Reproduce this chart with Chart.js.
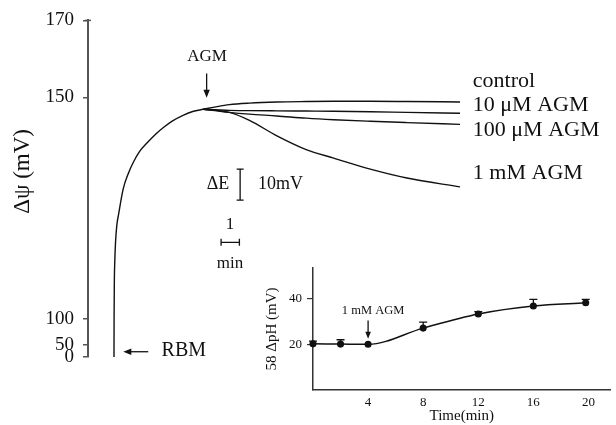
<!DOCTYPE html>
<html>
<head>
<meta charset="utf-8">
<script src="https://cdn.jsdelivr.net/npm/chart.js@4.4.1/dist/chart.umd.min.js"></script>
<style>
  body { margin: 0; background: #fff; }
  #wrap { position: relative; width: 616px; height: 425px; }
  #main { position: absolute; left: 0; top: 0; }
  #inset { position: absolute; left: 255px; top: 255px; }
</style>
</head>
<body>
<div id="wrap">
  <canvas id="main" width="616" height="425"></canvas>
  <canvas id="inset" width="361" height="170"></canvas>
</div>
<script>
// main trace, time in min after RBM, potential in mV
const riseTime = [0, 0.005, 0.02, 0.04, 0.08, 0.15, 0.25, 0.5, 0.8, 1.05, 1.4, 1.8, 2.3, 2.7, 3.2, 3.8, 4.3, 4.88];
const riseValue = [0, 100, 108.8, 112.6, 117, 121, 123.6, 129.3, 133, 135.3, 137.8, 139.7, 141.8, 143.2, 144.7, 146, 146.8, 147.3];

const tailTime = [4.88, 5.5, 6.3, 7.4, 8.9, 10.5, 12, 14, 16, 18.9];
const controlValue = [147.3, 147.8, 148.35, 148.7, 148.95, 149.05, 149.1, 149.1, 149.05, 148.95];
const agm10uMValue = [147.3, 147.2, 147.05, 147.0, 146.95, 146.9, 146.85, 146.75, 146.6, 146.4];
const agm100uMValue = [147.3, 147.0, 146.6, 146.2, 145.8, 145.3, 144.95, 144.6, 144.3, 143.9];
const agm1mMValue = [147.3, 147.1, 146.6, 144.8, 141.3, 138.2, 136.3, 133.8, 131.8, 129.8];

const curveLabels = ["control", "10 \u03bcM AGM", "100 \u03bcM AGM", "1 mM AGM"];
const curveLabelValue = [154.2, 148.2, 142.6, 132.9];

const yTicks = [0, 50, 100, 150, 170];

// inset: 58 dpH vs time
const insetTime = [0, 2, 4, 8, 12, 16, 19.8];
const insetValue = [20.2, 20.1, 20.0, 27.1, 33.3, 36.8, 38.2];
const insetError = [1.2, 1.9, 0, 2.6, 1.0, 2.9, 1.5];
const insetXTicks = [4, 8, 12, 16, 20];
const insetYTicks = [20, 40];

const serif = "'Liberation Serif', 'Times New Roman', serif";
const ink = "#111";

// the y axis of the main trace is drawn broken, so map values piecewise
const breakFractions = [0, 0.0356, 0.1128, 0.7715, 1];
function toFrac(v) {
  for (let i = 1; i < yTicks.length; i++) {
    if (v <= yTicks[i] || i === yTicks.length - 1) {
      const a = yTicks[i - 1], b = yTicks[i];
      return breakFractions[i - 1] + (v - a) / (b - a) * (breakFractions[i] - breakFractions[i - 1]);
    }
  }
}
function fromFrac(f) {
  for (let i = 1; i < breakFractions.length; i++) {
    if (f <= breakFractions[i] || i === breakFractions.length - 1) {
      const a = breakFractions[i - 1], b = breakFractions[i];
      return yTicks[i - 1] + (f - a) / (b - a) * (yTicks[i] - yTicks[i - 1]);
    }
  }
}

class BrokenScale extends Chart.LinearScale {
  static id = "broken";
  static defaults = Chart.LinearScale.defaults;
  getPixelForValue(v) {
    if (v === null || v === undefined || isNaN(v)) return NaN;
    return this.getPixelForDecimal(toFrac(v));
  }
  getValueForPixel(p) {
    return fromFrac(this.getDecimalForPixel(p));
  }
}
Chart.register(BrokenScale);

function pts(xs, ys) {
  return xs.map((x, i) => ({ x: x, y: ys[i] }));
}

function arrow(ctx, x1, y1, x2, y2, head) {
  const ang = Math.atan2(y2 - y1, x2 - x1);
  ctx.beginPath();
  ctx.moveTo(x1, y1);
  ctx.lineTo(x2 - Math.cos(ang) * head * 0.8, y2 - Math.sin(ang) * head * 0.8);
  ctx.stroke();
  ctx.beginPath();
  ctx.moveTo(x2, y2);
  ctx.lineTo(x2 - head * Math.cos(ang) + head * 0.4 * Math.sin(ang), y2 - head * Math.sin(ang) - head * 0.4 * Math.cos(ang));
  ctx.lineTo(x2 - head * Math.cos(ang) - head * 0.4 * Math.sin(ang), y2 - head * Math.sin(ang) + head * 0.4 * Math.cos(ang));
  ctx.closePath();
  ctx.fill();
}

function text(ctx, s, x, y, size, align) {
  ctx.font = size + "px " + serif;
  ctx.textAlign = align || "center";
  ctx.textBaseline = "middle";
  ctx.fillText(s, x, y);
}

const mainNotes = {
  id: "mainNotes",
  afterDatasetsDraw(chart) {
    const ctx = chart.ctx;
    const px = t => chart.scales.x.getPixelForValue(t);
    const py = v => chart.scales.y.getPixelForValue(v);
    ctx.save();
    ctx.fillStyle = ink;
    ctx.strokeStyle = ink;
    ctx.lineWidth = 1.3;

    // axis title sits above the middle of the axis in the original
    ctx.save();
    ctx.translate(23, py(133.3));
    ctx.rotate(-Math.PI / 2);
    text(ctx, "\u0394\u03c8 (mV)", 0, 0, 23);
    ctx.restore();

    curveLabels.forEach((s, i) => text(ctx, s, px(19.6), py(curveLabelValue[i]), 22, "left"));

    text(ctx, "AGM", px(5.08), py(160.6), 17);
    arrow(ctx, px(5.06), py(156.2), px(5.06), py(149.9), 8);

    arrow(ctx, px(1.87), py(22), px(0.51), py(22), 8);
    text(ctx, "RBM", px(2.6), py(27), 20, "left");

    // 10 mV scale bar
    const bx = px(6.89), bt = py(133.8), bb = py(126.8);
    ctx.beginPath();
    ctx.moveTo(bx, bt); ctx.lineTo(bx, bb);
    ctx.moveTo(bx - 3.5, bt); ctx.lineTo(bx + 3.5, bt);
    ctx.moveTo(bx - 3.5, bb); ctx.lineTo(bx + 3.5, bb);
    ctx.stroke();
    text(ctx, "\u0394E", px(5.68), py(130.3), 18);
    text(ctx, "10mV", px(7.87), py(130.3), 18, "left");

    // 1 min scale bar
    const ml = px(5.85), mr = px(6.85), my = py(117.3);
    ctx.beginPath();
    ctx.moveTo(ml, my); ctx.lineTo(mr, my);
    ctx.moveTo(ml, my - 3.5); ctx.lineTo(ml, my + 3.5);
    ctx.moveTo(mr, my - 3.5); ctx.lineTo(mr, my + 3.5);
    ctx.stroke();
    text(ctx, "1", px(6.34), py(121.2), 17);
    text(ctx, "min", px(6.34), py(112.6), 17);

    // top tick crosses the axis
    const yx = chart.scales.y.right, yt = py(170);
    ctx.strokeStyle = "#555";
    ctx.lineWidth = 1.5;
    ctx.beginPath();
    ctx.moveTo(yx - 3, yt); ctx.lineTo(yx + 3, yt);
    ctx.stroke();
    ctx.restore();
  }
};

const lineStyle = { borderColor: ink, borderWidth: 1.4, pointRadius: 0, cubicInterpolationMode: "monotone", clip: false };

new Chart(document.getElementById("main"), {
  type: "line",
  data: {
    datasets: [
      Object.assign({ data: pts(riseTime, riseValue) }, lineStyle),
      Object.assign({ data: pts(tailTime, controlValue) }, lineStyle),
      Object.assign({ data: pts(tailTime, agm10uMValue) }, lineStyle),
      Object.assign({ data: pts(tailTime, agm100uMValue) }, lineStyle),
      Object.assign({ data: pts(tailTime, agm1mMValue) }, lineStyle)
    ]
  },
  options: {
    responsive: false,
    devicePixelRatio: 1,
    animation: false,
    layout: { padding: { top: 20, right: 156, bottom: 68, left: 0 } },
    plugins: { legend: { display: false }, tooltip: { enabled: false } },
    scales: {
      x: { type: "linear", display: false, min: -1.42, max: 18.9 },
      y: {
        type: "broken",
        min: 0,
        max: 170,
        afterBuildTicks: s => { s.ticks = yTicks.map(v => ({ value: v })); },
        afterFit: s => { s.width = 88; },
        ticks: { autoSkip: false, padding: 9, color: ink, font: { family: serif, size: 19 } },
        grid: { drawOnChartArea: false, tickLength: 5, color: "#555", lineWidth: 1.5 },
        border: { color: "#555", width: 2 }
      }
    }
  },
  plugins: [mainNotes]
});

const insetNotes = {
  id: "insetNotes",
  afterDatasetsDraw(chart) {
    const ctx = chart.ctx;
    const px = t => chart.scales.x.getPixelForValue(t);
    const py = v => chart.scales.y.getPixelForValue(v);
    ctx.save();
    ctx.fillStyle = ink;
    ctx.strokeStyle = ink;
    ctx.lineWidth = 1.3;
    insetTime.forEach((t, i) => {
      if (!insetError[i]) return;
      const x = px(t), y0 = py(insetValue[i]), y1 = py(insetValue[i] + insetError[i]);
      ctx.beginPath();
      ctx.moveTo(x, y0); ctx.lineTo(x, y1);
      ctx.moveTo(x - 4, y1); ctx.lineTo(x + 4, y1);
      ctx.stroke();
    });
    text(ctx, "1 mM AGM", px(4.36), py(34.8), 12.5);
    arrow(ctx, px(4), py(30.4), px(4), py(22.4), 7);
    ctx.restore();
  }
};

new Chart(document.getElementById("inset"), {
  type: "line",
  data: {
    datasets: [{
      data: pts(insetTime, insetValue),
      borderColor: ink,
      borderWidth: 1.5,
      pointRadius: 2.8,
      pointBackgroundColor: ink,
      pointBorderColor: ink,
      cubicInterpolationMode: "monotone",
      clip: false
    }]
  },
  options: {
    responsive: false,
    devicePixelRatio: 1,
    animation: false,
    layout: { padding: { top: 12, right: 3, bottom: 0, left: 0 } },
    plugins: { legend: { display: false }, tooltip: { enabled: false } },
    scales: {
      x: {
        type: "linear",
        min: 0,
        max: 21.6,
        afterBuildTicks: s => { s.ticks = insetXTicks.map(v => ({ value: v })); },
        afterFit: s => { s.height = 35; },
        ticks: { autoSkip: false, maxRotation: 0, padding: 5, color: ink, font: { family: serif, size: 13 } },
        grid: { drawOnChartArea: false, drawTicks: false },
        border: { color: "#333", width: 1.5 },
        title: { display: true, text: "Time(min)", color: ink, font: { family: serif, size: 15 }, padding: { top: 0, bottom: 0 } }
      },
      y: {
        type: "linear",
        min: 0,
        max: 53.5,
        afterBuildTicks: s => { s.ticks = insetYTicks.map(v => ({ value: v })); },
        afterFit: s => { s.width = 58; },
        ticks: { autoSkip: false, padding: 5, color: ink, font: { family: serif, size: 13 } },
        grid: { drawOnChartArea: false, tickLength: 6, color: "#333", lineWidth: 1.2 },
        border: { color: "#333", width: 1.5 },
        title: { display: true, text: "58 \u0394pH (mV)", color: ink, font: { family: serif, size: 15 }, padding: { top: 8, bottom: 0 } }
      }
    }
  },
  plugins: [insetNotes]
});
</script>
</body>
</html>
